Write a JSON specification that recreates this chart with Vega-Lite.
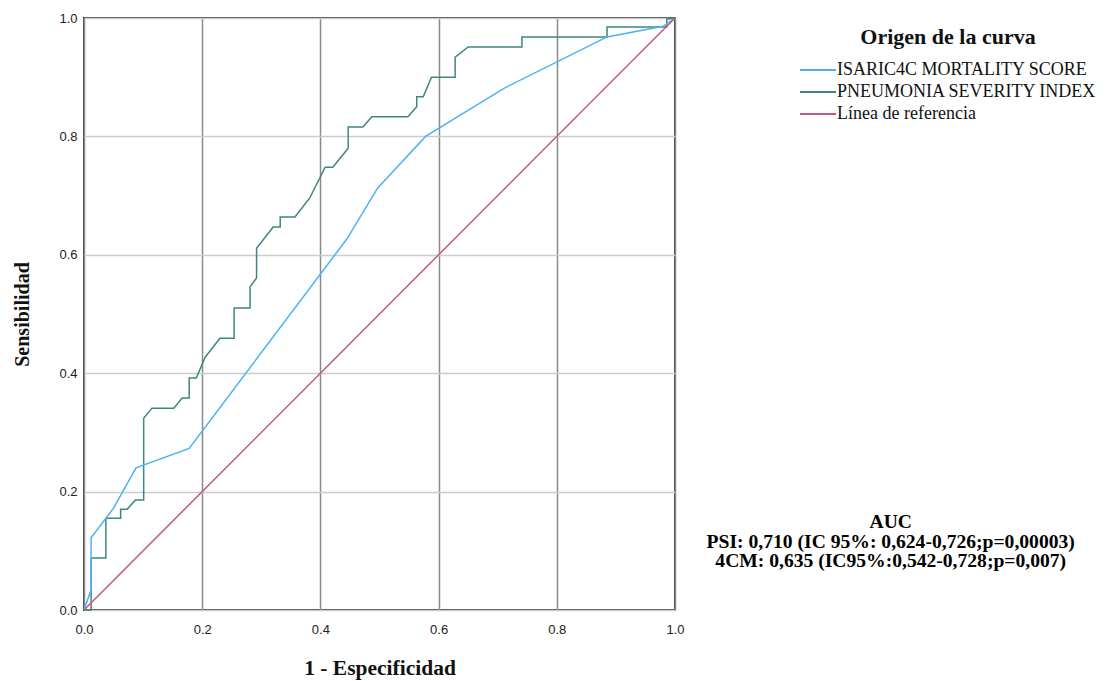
{
  "$schema": "https://vega.github.io/schema/vega-lite/v6.json",
  "width": 591,
  "height": 592,
  "autosize": "none",
  "padding": {"left": 84, "top": 18, "right": 430, "bottom": 71},
  "background": "white",
  "config": {
    "view": {"stroke": "#444444", "strokeWidth": 2},
    "axis": {
      "domain": false,
      "ticks": false,
      "labelFlush": false,
      "labelFont": "Liberation Sans",
      "labelFontSize": 13,
      "labelColor": "#222222",
      "titleFont": "Liberation Serif",
      "titleFontSize": 20,
      "titleFontWeight": "bold",
      "titleColor": "#111111",
      "gridWidth": 1.5
    }
  },
  "datasets": {
    "curvas": [
      {"curva": "PNEUMONIA SEVERITY INDEX", "orden": 1, "fpr": 0, "sens": 0},
      {"curva": "PNEUMONIA SEVERITY INDEX", "orden": 2, "fpr": 0.012, "sens": 0},
      {"curva": "PNEUMONIA SEVERITY INDEX", "orden": 3, "fpr": 0.012, "sens": 0.088},
      {"curva": "PNEUMONIA SEVERITY INDEX", "orden": 4, "fpr": 0.037, "sens": 0.088},
      {"curva": "PNEUMONIA SEVERITY INDEX", "orden": 5, "fpr": 0.037, "sens": 0.155},
      {"curva": "PNEUMONIA SEVERITY INDEX", "orden": 6, "fpr": 0.062, "sens": 0.155},
      {"curva": "PNEUMONIA SEVERITY INDEX", "orden": 7, "fpr": 0.062, "sens": 0.17},
      {"curva": "PNEUMONIA SEVERITY INDEX", "orden": 8, "fpr": 0.073, "sens": 0.17},
      {"curva": "PNEUMONIA SEVERITY INDEX", "orden": 9, "fpr": 0.087, "sens": 0.186},
      {"curva": "PNEUMONIA SEVERITY INDEX", "orden": 10, "fpr": 0.101, "sens": 0.186},
      {"curva": "PNEUMONIA SEVERITY INDEX", "orden": 11, "fpr": 0.101, "sens": 0.324},
      {"curva": "PNEUMONIA SEVERITY INDEX", "orden": 12, "fpr": 0.115, "sens": 0.341},
      {"curva": "PNEUMONIA SEVERITY INDEX", "orden": 13, "fpr": 0.152, "sens": 0.341},
      {"curva": "PNEUMONIA SEVERITY INDEX", "orden": 14, "fpr": 0.166, "sens": 0.358},
      {"curva": "PNEUMONIA SEVERITY INDEX", "orden": 15, "fpr": 0.178, "sens": 0.358},
      {"curva": "PNEUMONIA SEVERITY INDEX", "orden": 16, "fpr": 0.178, "sens": 0.392},
      {"curva": "PNEUMONIA SEVERITY INDEX", "orden": 17, "fpr": 0.19, "sens": 0.392},
      {"curva": "PNEUMONIA SEVERITY INDEX", "orden": 18, "fpr": 0.205, "sens": 0.427},
      {"curva": "PNEUMONIA SEVERITY INDEX", "orden": 19, "fpr": 0.23, "sens": 0.459},
      {"curva": "PNEUMONIA SEVERITY INDEX", "orden": 20, "fpr": 0.254, "sens": 0.459},
      {"curva": "PNEUMONIA SEVERITY INDEX", "orden": 21, "fpr": 0.254, "sens": 0.51},
      {"curva": "PNEUMONIA SEVERITY INDEX", "orden": 22, "fpr": 0.281, "sens": 0.51},
      {"curva": "PNEUMONIA SEVERITY INDEX", "orden": 23, "fpr": 0.281, "sens": 0.546},
      {"curva": "PNEUMONIA SEVERITY INDEX", "orden": 24, "fpr": 0.292, "sens": 0.561},
      {"curva": "PNEUMONIA SEVERITY INDEX", "orden": 25, "fpr": 0.292, "sens": 0.611},
      {"curva": "PNEUMONIA SEVERITY INDEX", "orden": 26, "fpr": 0.32, "sens": 0.647},
      {"curva": "PNEUMONIA SEVERITY INDEX", "orden": 27, "fpr": 0.332, "sens": 0.647},
      {"curva": "PNEUMONIA SEVERITY INDEX", "orden": 28, "fpr": 0.332, "sens": 0.664},
      {"curva": "PNEUMONIA SEVERITY INDEX", "orden": 29, "fpr": 0.357, "sens": 0.664},
      {"curva": "PNEUMONIA SEVERITY INDEX", "orden": 30, "fpr": 0.382, "sens": 0.696},
      {"curva": "PNEUMONIA SEVERITY INDEX", "orden": 31, "fpr": 0.408, "sens": 0.748},
      {"curva": "PNEUMONIA SEVERITY INDEX", "orden": 32, "fpr": 0.421, "sens": 0.748},
      {"curva": "PNEUMONIA SEVERITY INDEX", "orden": 33, "fpr": 0.447, "sens": 0.78},
      {"curva": "PNEUMONIA SEVERITY INDEX", "orden": 34, "fpr": 0.447, "sens": 0.816},
      {"curva": "PNEUMONIA SEVERITY INDEX", "orden": 35, "fpr": 0.472, "sens": 0.816},
      {"curva": "PNEUMONIA SEVERITY INDEX", "orden": 36, "fpr": 0.487, "sens": 0.833},
      {"curva": "PNEUMONIA SEVERITY INDEX", "orden": 37, "fpr": 0.548, "sens": 0.833},
      {"curva": "PNEUMONIA SEVERITY INDEX", "orden": 38, "fpr": 0.563, "sens": 0.85},
      {"curva": "PNEUMONIA SEVERITY INDEX", "orden": 39, "fpr": 0.563, "sens": 0.867},
      {"curva": "PNEUMONIA SEVERITY INDEX", "orden": 40, "fpr": 0.574, "sens": 0.867},
      {"curva": "PNEUMONIA SEVERITY INDEX", "orden": 41, "fpr": 0.588, "sens": 0.9},
      {"curva": "PNEUMONIA SEVERITY INDEX", "orden": 42, "fpr": 0.628, "sens": 0.9},
      {"curva": "PNEUMONIA SEVERITY INDEX", "orden": 43, "fpr": 0.628, "sens": 0.934},
      {"curva": "PNEUMONIA SEVERITY INDEX", "orden": 44, "fpr": 0.65, "sens": 0.951},
      {"curva": "PNEUMONIA SEVERITY INDEX", "orden": 45, "fpr": 0.741, "sens": 0.951},
      {"curva": "PNEUMONIA SEVERITY INDEX", "orden": 46, "fpr": 0.741, "sens": 0.968},
      {"curva": "PNEUMONIA SEVERITY INDEX", "orden": 47, "fpr": 0.885, "sens": 0.968},
      {"curva": "PNEUMONIA SEVERITY INDEX", "orden": 48, "fpr": 0.885, "sens": 0.985},
      {"curva": "PNEUMONIA SEVERITY INDEX", "orden": 49, "fpr": 0.986, "sens": 0.985},
      {"curva": "PNEUMONIA SEVERITY INDEX", "orden": 50, "fpr": 0.986, "sens": 0.998},
      {"curva": "PNEUMONIA SEVERITY INDEX", "orden": 51, "fpr": 1, "sens": 1},
      {"curva": "ISARIC4C MORTALITY SCORE", "orden": 1, "fpr": 0, "sens": 0},
      {"curva": "ISARIC4C MORTALITY SCORE", "orden": 2, "fpr": 0.012, "sens": 0.034},
      {"curva": "ISARIC4C MORTALITY SCORE", "orden": 3, "fpr": 0.012, "sens": 0.122},
      {"curva": "ISARIC4C MORTALITY SCORE", "orden": 4, "fpr": 0.05, "sens": 0.172},
      {"curva": "ISARIC4C MORTALITY SCORE", "orden": 5, "fpr": 0.088, "sens": 0.24},
      {"curva": "ISARIC4C MORTALITY SCORE", "orden": 6, "fpr": 0.178, "sens": 0.273},
      {"curva": "ISARIC4C MORTALITY SCORE", "orden": 7, "fpr": 0.445, "sens": 0.627},
      {"curva": "ISARIC4C MORTALITY SCORE", "orden": 8, "fpr": 0.497, "sens": 0.713},
      {"curva": "ISARIC4C MORTALITY SCORE", "orden": 9, "fpr": 0.578, "sens": 0.8},
      {"curva": "ISARIC4C MORTALITY SCORE", "orden": 10, "fpr": 0.712, "sens": 0.882},
      {"curva": "ISARIC4C MORTALITY SCORE", "orden": 11, "fpr": 0.885, "sens": 0.968},
      {"curva": "ISARIC4C MORTALITY SCORE", "orden": 12, "fpr": 0.98, "sens": 0.986},
      {"curva": "ISARIC4C MORTALITY SCORE", "orden": 13, "fpr": 1, "sens": 1},
      {"curva": "Línea de referencia", "orden": 1, "fpr": 0, "sens": 0},
      {"curva": "Línea de referencia", "orden": 2, "fpr": 1, "sens": 1}
    ]
  },
  "layer": [
    {
      "data": {"name": "curvas"},
      "mark": {"type": "line", "strokeWidth": 1.5},
      "encoding": {
        "x": {
          "field": "fpr",
          "type": "quantitative",
          "title": "1 - Especificidad",
          "scale": {"domain": [0, 1], "nice": false},
          "axis": {
            "values": [0, 0.2, 0.4, 0.6, 0.8, 1],
            "format": ".1f",
            "gridColor": "#8a8a8a",
            "labelPadding": 13,
            "titlePadding": 21,
            "titleFontSize": 21.5
          }
        },
        "y": {
          "field": "sens",
          "type": "quantitative",
          "title": "Sensibilidad",
          "scale": {"domain": [0, 1], "nice": false},
          "axis": {
            "values": [0, 0.2, 0.4, 0.6, 0.8, 1],
            "format": ".1f",
            "gridColor": "#cccccc",
            "labelPadding": 7,
            "titlePadding": 26
          }
        },
        "color": {
          "field": "curva",
          "type": "nominal",
          "scale": {
            "domain": ["ISARIC4C MORTALITY SCORE", "PNEUMONIA SEVERITY INDEX", "Línea de referencia"],
            "range": ["#4cb2f2", "#3d8780", "#c9547e"]
          },
          "legend": {
            "orient": "none",
            "legendX": 716,
            "legendY": 9,
            "title": "Origen de la curva",
            "titleFont": "Liberation Serif",
            "titleFontSize": 22,
            "titleFontWeight": "bold",
            "titleColor": "#111111",
            "titleAnchor": "middle",
            "titlePadding": 12,
            "labelFont": "Liberation Serif",
            "labelFontSize": 18,
            "labelColor": "#111111",
            "labelLimit": 0,
            "labelOffset": 10,
            "symbolType": "M-3,0H3",
            "symbolSize": 144,
            "symbolOffset": 9,
            "symbolStrokeWidth": 2,
            "rowPadding": 4
          }
        },
        "order": {"field": "orden", "type": "quantitative"}
      }
    },
    {
      "data": {"values": [{}]},
      "mark": {
        "type": "text",
        "text": ["AUC", "PSI: 0,710 (IC 95%: 0,624-0,726;p=0,00003)", "4CM: 0,635 (IC95%:0,542-0,728;p=0,007)"],
        "font": "Liberation Serif",
        "fontSize": 19.6,
        "fontWeight": "bold",
        "color": "#000000",
        "align": "center",
        "baseline": "top",
        "lineHeight": 19.5
      },
      "encoding": {
        "x": {"datum": 1.365},
        "y": {"datum": 0.1635}
      }
    }
  ]
}
